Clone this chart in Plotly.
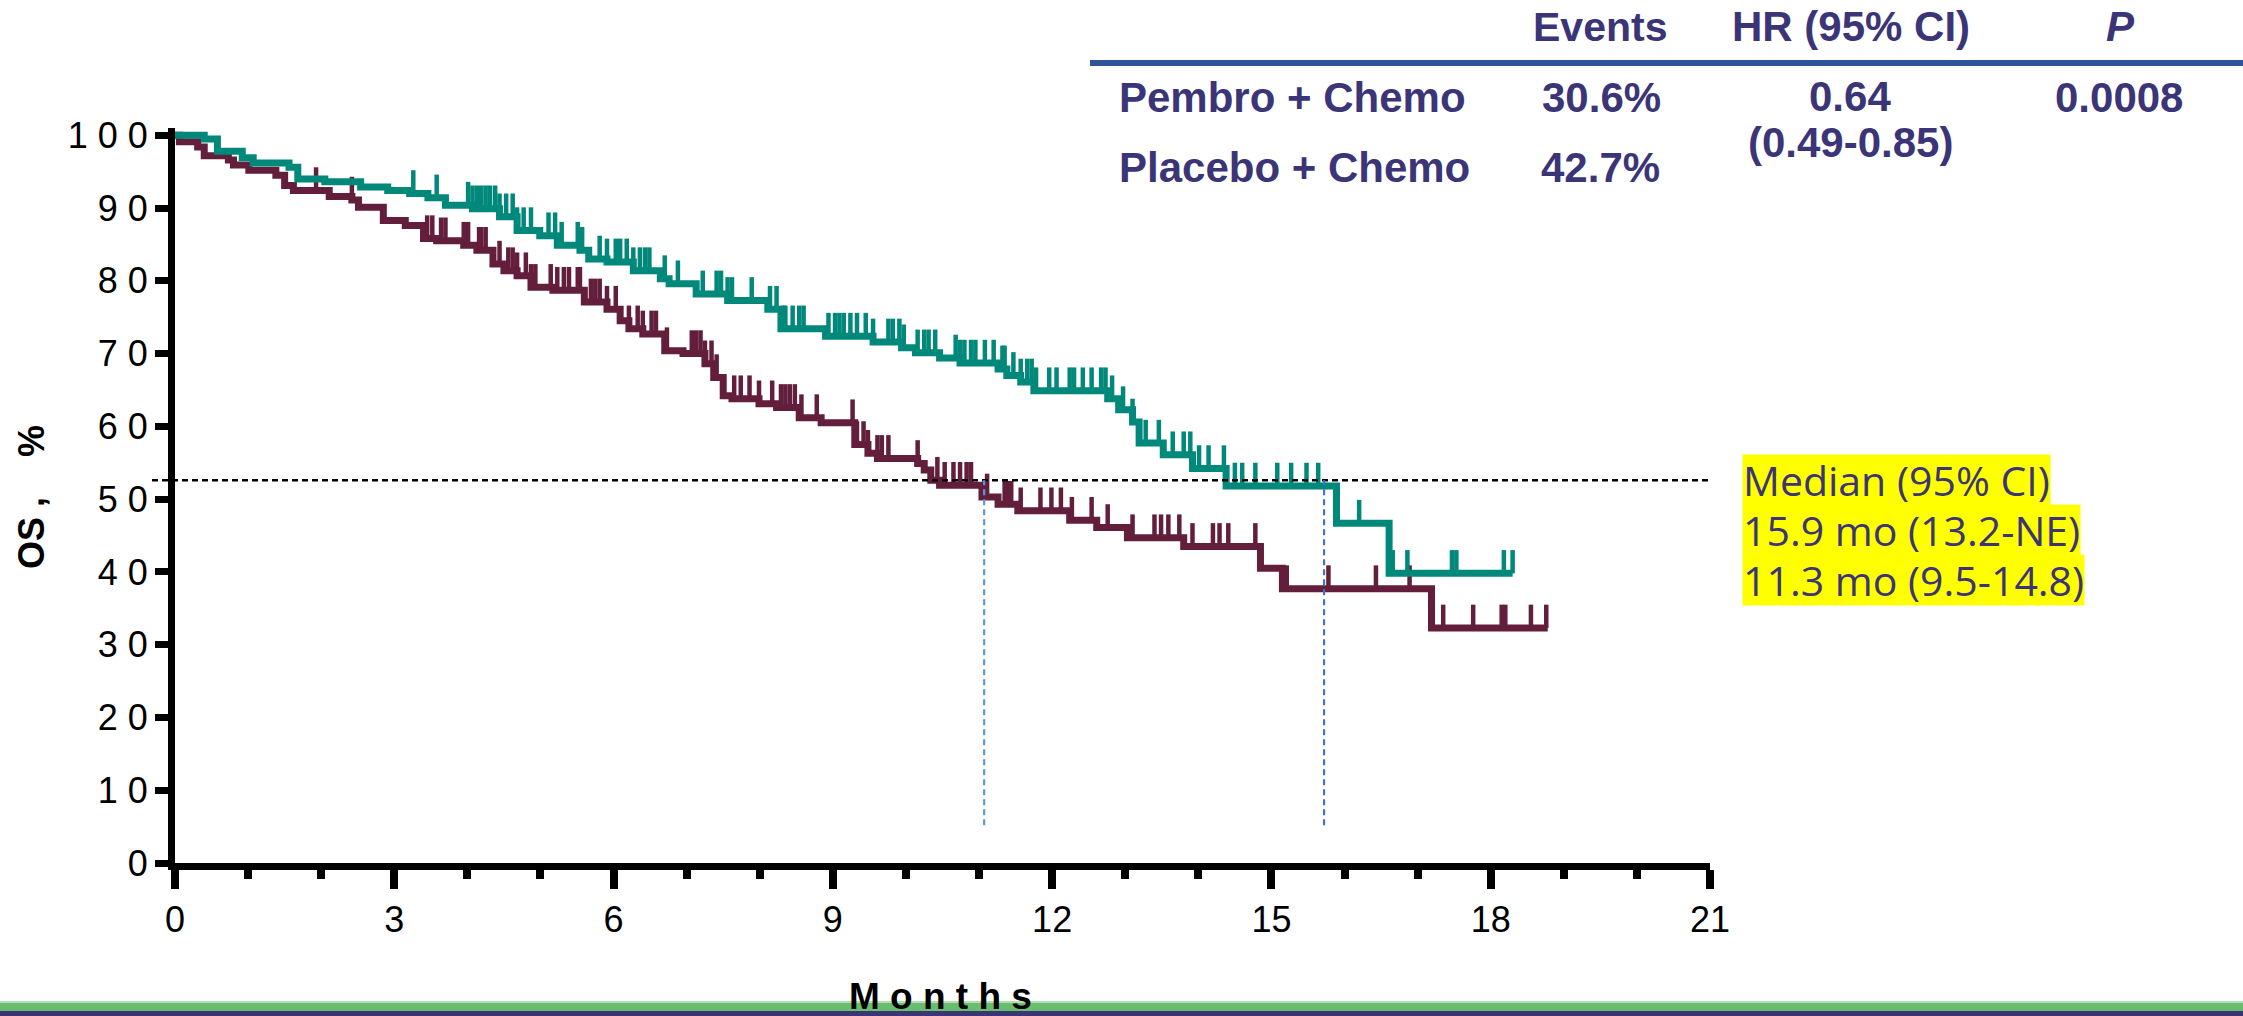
import plotly.graph_objects as go

# ---------------- data ----------------
X_TICKS = [0, 3, 6, 9, 12, 15, 18, 21]
X_TICK_LABELS = ["0", "3", "6", "9", "12", "15", "18", "21"]
Y_TICKS = [0, 10, 20, 30, 40, 50, 60, 70, 80, 90, 100]
Y_TICK_LABELS = ["0", "1 0", "2 0", "3 0", "4 0", "5 0", "6 0", "7 0", "8 0", "9 0", "1 0 0"]

pembro_t = [0, 0.40, 0.58, 0.92, 1.07, 1.56, 1.68, 2.05, 2.54, 2.91, 3.21, 3.46, 3.70, 4.07, 4.44,
            4.68, 4.99, 5.23, 5.54, 5.66, 5.91, 6.27, 6.64, 6.76, 7.13, 7.56, 8.11, 8.29, 8.90, 9.55,
            9.94, 10.13, 10.46, 10.74, 11.26, 11.38, 11.57, 11.75, 12.76, 12.91, 13.10, 13.19, 13.52,
            13.92, 14.38, 15.89, 16.61]
pembro_s = [100, 99.5, 97.8, 96.9, 96.2, 95.6, 94.0, 93.6, 92.9, 92.4, 92.0, 91.4, 90.4, 89.9, 88.8,
            86.9, 86.2, 84.9, 84.2, 83.0, 82.6, 81.4, 80.3, 79.6, 78.2, 77.3, 76.1, 73.4, 72.4, 71.6,
            70.8, 70.1, 69.4, 68.7, 67.9, 67.0, 66.1, 64.9, 63.8, 62.3, 60.6, 57.7, 56.1,
            54.2, 51.8, 46.7, 39.8]
pembro_end = 18.30
pembro_censor = [3.26, 3.58, 4.01, 4.07, 4.13, 4.19, 4.25, 4.31, 4.38, 4.44, 4.53, 4.62, 4.68, 4.77, 4.87,
                 5.11, 5.20, 5.29, 5.51, 5.57, 5.81, 5.91, 6.03, 6.09, 6.18, 6.27, 6.36, 6.43, 6.49, 6.70,
                 6.88, 7.22, 7.41, 7.47, 7.56, 7.62, 7.89, 8.14, 8.23, 8.32, 8.35, 8.45, 8.54, 8.60, 8.94,
                 9.03, 9.09, 9.15, 9.24, 9.33, 9.45, 9.55, 9.76, 9.82, 9.91, 9.97, 10.16, 10.25, 10.31,
                 10.40, 10.68, 10.74, 10.80, 10.89, 10.95, 11.08, 11.20, 11.32, 11.35, 11.47, 11.57,
                 11.66, 11.72, 11.78, 11.96, 12.06, 12.24, 12.30, 12.42, 12.54, 12.67, 12.73, 12.82,
                 12.97, 13.10, 13.28, 13.46, 13.65, 13.80, 13.89, 14.01, 14.14, 14.35, 14.50, 14.60,
                 14.78, 15.08, 15.27, 15.48, 15.64, 16.20, 16.66, 16.86, 17.47, 17.53, 18.18, 18.30]

placebo_t = [0, 0.06, 0.31, 0.40, 0.73, 0.80, 1.01, 1.38, 1.50, 1.62, 2.11, 2.42, 2.51, 2.85, 3.15,
             3.40, 3.58, 3.95, 4.13, 4.35, 4.50, 4.68, 4.87, 5.17, 5.60, 5.91, 6.09, 6.21, 6.40, 6.70,
             6.95, 7.25, 7.37, 7.50, 7.62, 7.99, 8.23, 8.54, 8.84, 9.30, 9.48, 9.61, 10.16, 10.25,
             10.34, 10.46, 11.04, 11.26, 11.53, 12.24, 12.61, 13.03, 13.80, 14.85, 15.15, 17.19]
placebo_s = [100, 99.1, 98.4, 97.2, 96.6, 95.9, 95.2, 94.5, 93.1, 92.4, 91.6, 91.1, 90.1, 88.3, 87.6,
             85.8, 85.5, 84.9, 84.2, 82.3, 81.4, 80.7, 79.1, 78.7, 77.1, 76.1, 74.5, 73.4, 72.7, 70.4,
             70.0, 68.6, 66.7, 64.2, 63.8, 63.1, 62.6, 61.2, 60.5, 57.5, 56.3, 55.6, 54.9, 54.0,
             52.6, 51.9, 50.3, 49.3, 48.4, 47.1, 46.1, 44.7, 43.5, 40.5, 37.7, 32.3]
placebo_end = 18.78
placebo_censor = [1.93, 2.42, 3.45, 3.52, 3.64, 3.70, 3.95, 4.01, 4.16, 4.19, 4.25, 4.44, 4.56, 4.62, 4.68,
                  4.80, 4.87, 4.93, 5.14, 5.23, 5.32, 5.39, 5.51, 5.54, 5.69, 5.75, 5.81, 5.91, 6.03,
                  6.21, 6.33, 6.40, 6.52, 6.58, 6.73, 7.07, 7.13, 7.19, 7.25, 7.34, 7.41, 7.65, 7.74,
                  7.86, 7.99, 8.17, 8.29, 8.35, 8.41, 8.48, 8.57, 8.78, 9.27, 9.33, 9.42, 9.48, 9.61,
                  9.67, 9.76, 10.16, 10.43, 10.53, 10.65, 10.74, 10.83, 10.89, 11.11, 11.35, 11.38,
                  11.44, 11.57, 11.84, 11.99, 12.12, 12.27, 12.54, 12.76, 13.10, 13.40, 13.49, 13.59,
                  13.74, 13.92, 14.20, 14.29, 14.41, 14.78, 15.21, 15.78, 16.43, 16.89, 17.35, 17.76,
                  18.15, 18.20, 18.55, 18.76]

median_level = 52.6
median_times = [11.07, 15.72]          # placebo, pembro
median_floor = 5.2

table_header = ["Events", "HR (95% CI)", "P"]
arm_names = ["Pembro + Chemo", "Placebo + Chemo"]
events = ["30.6%", "42.7%"]
hr_text = ["0.64", "(0.49-0.85)"]
p_text = "0.0008"
median_lines = ["Median (95% CI)", "15.9 mo (13.2-NE)", "11.3 mo (9.5-14.8)"]

# ---------------- style ----------------
W, H = 2243, 1016
ML, MR, MT, MB = 175, 533, 128, 153
PW = W - ML - MR
PH = H - MT - MB
X_RANGE = [0, 21]
Y_RANGE = [0, 101]
GREEN = "#00897A"
MAROON = "#631E3C"
TXT = "#3B3578"
ARIAL = "Liberation Sans, Arial, sans-serif"
CENSOR_H = 3.2


def px_x(px):
    return (px - ML) / PW


def px_y(py):
    return (H - MB - py) / PH


def step_xy(t, s, end):
    return list(t) + [end], list(s) + [s[-1]]


def surv_at(t, s, x):
    v = s[0]
    for ti, si in zip(t, s):
        if ti <= x:
            v = si
        else:
            break
    return v


def censor_xy(t, s, cens):
    xs, ys = [], []
    for c in cens:
        v = surv_at(t, s, c)
        xs += [c, c, None]
        ys += [v, v + CENSOR_H, None]
    return xs, ys


fig = go.Figure()

for t, s, end, cens, col in [(placebo_t, placebo_s, placebo_end, placebo_censor, MAROON),
                             (pembro_t, pembro_s, pembro_end, pembro_censor, GREEN)]:
    sx, sy = step_xy(t, s, end)
    fig.add_trace(go.Scatter(x=sx, y=sy, mode="lines", line=dict(color=col, width=7, shape="hv"),
                             hoverinfo="skip"))
    cx, cy = censor_xy(t, s, cens)
    fig.add_trace(go.Scatter(x=cx, y=cy, mode="lines", line=dict(color=col, width=4.5),
                             hoverinfo="skip"))

shapes = []
# horizontal median reference line (extends slightly left of the axis)
yl = (median_level - Y_RANGE[0]) / (Y_RANGE[1] - Y_RANGE[0])
shapes.append(dict(type="line", xref="paper", yref="paper", x0=px_x(152), x1=px_x(1712), y0=yl, y1=yl,
                   line=dict(color="black", width=2.5, dash="6px,4px")))
for mt, col in zip(median_times, ["#5B9BD5", "#4472C4"]):
    shapes.append(dict(type="line", xref="x", yref="y", x0=mt, x1=mt, y0=median_floor, y1=median_level,
                       line=dict(color=col, width=2.2, dash="6px,4px")))
# table rule
shapes.append(dict(type="line", xref="paper", yref="paper", x0=px_x(1090), x1=px_x(W),
                   y0=px_y(63), y1=px_y(63), line=dict(color="#2E5597", width=6)))
# bottom decorative bars
shapes.append(dict(type="rect", xref="paper", yref="paper", x0=px_x(0), x1=px_x(W),
                   y0=px_y(1003), y1=px_y(1001), line=dict(width=0), fillcolor="#B5DDB5"))
shapes.append(dict(type="rect", xref="paper", yref="paper", x0=px_x(0), x1=px_x(W),
                   y0=px_y(1011), y1=px_y(1003), line=dict(width=0), fillcolor="#69BE6E"))
shapes.append(dict(type="rect", xref="paper", yref="paper", x0=px_x(0), x1=px_x(W),
                   y0=px_y(1017), y1=px_y(1011), line=dict(width=0), fillcolor="#3B3576"))

annotations = []


def ann(text, x, baseline, size=42, xanchor="center", color=TXT, family=ARIAL, bold=True, italic=False):
    t = text
    if italic:
        t = "<i>" + t + "</i>"
    if bold:
        t = "<b>" + t + "</b>"
    annotations.append(dict(text=t, xref="paper", yref="paper", x=px_x(x),
                            y=px_y(baseline + 0.212 * size + 1), xanchor=xanchor, yanchor="bottom",
                            showarrow=False, font=dict(family=family, size=size, color=color),
                            borderpad=1))


ann(table_header[0], 1600, 42, size=41)
ann(table_header[1], 1851, 42)
ann(table_header[2], 2120, 42, italic=True)
ann(arm_names[0], 1117, 113, xanchor="left")
ann(arm_names[1], 1117, 183, xanchor="left")
ann(events[0], 1601, 113)
ann(events[1], 1600, 183)
ann(hr_text[0], 1850, 112)
ann(hr_text[1], 1850, 158)
ann(p_text, 2119, 113)

for i, line in enumerate(median_lines):
    annotations.append(dict(text=line, xref="paper", yref="paper", x=px_x(1742), y=px_y(454 + 50 * i),
                            xanchor="left", yanchor="top", showarrow=False, bgcolor="#FFFF00",
                            height=50, valign="middle", align="left",
                            borderpad=0, font=dict(family="Open Sans, Noto Sans, sans-serif", size=41,
                                                   color=TXT)))

annotations.append(dict(text="<b>OS ,    %</b>", xref="paper", yref="paper", x=px_x(31), y=px_y(497),
                        xanchor="center", yanchor="middle", textangle=-90, showarrow=False,
                        font=dict(family=ARIAL, size=36, color="black")))
annotations.append(dict(text="<b>M o n t h s</b>", xref="paper", yref="paper", x=px_x(940), y=px_y(1019),
                        xanchor="center", yanchor="bottom", showarrow=False,
                        font=dict(family=ARIAL, size=37, color="black")))

fig.update_layout(
    width=W, height=H,
    margin=dict(l=ML, r=MR, t=MT, b=MB, autoexpand=False),
    paper_bgcolor="white", plot_bgcolor="white", showlegend=False,
    shapes=shapes, annotations=annotations,
    xaxis=dict(range=X_RANGE, tickvals=X_TICKS, ticktext=X_TICK_LABELS, ticks="outside", ticklen=19,
               tickwidth=8, tickcolor="black", showline=True, linewidth=7, linecolor="black",
               showgrid=False, zeroline=False, fixedrange=True,
               tickfont=dict(family=ARIAL, size=36, color="black"),
               minor=dict(dtick=1, tick0=0, ticks="outside", ticklen=9, tickwidth=8, tickcolor="black",
                          showgrid=False)),
    yaxis=dict(range=Y_RANGE, tickvals=Y_TICKS, ticktext=Y_TICK_LABELS, ticks="outside", ticklen=13,
               tickwidth=7, tickcolor="black", showline=True, linewidth=7, linecolor="black",
               showgrid=False, zeroline=False, fixedrange=True,
               tickfont=dict(family=ARIAL, size=36, color="black")),
)

fig.write_html("out.html", config={"displayModeBar": False},
               post_script="document.body.style.margin='0px';document.body.style.overflow='hidden';")
